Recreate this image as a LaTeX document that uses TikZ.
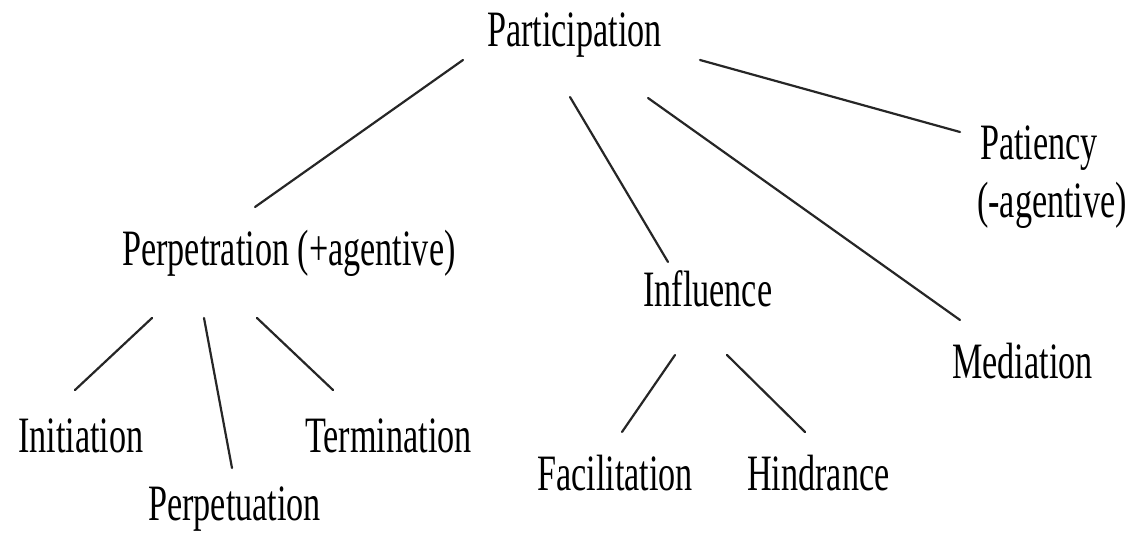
\documentclass[tikz,border=0pt]{standalone}
\usepackage{graphicx}
\usepackage{fontspec}
\setmainfont{Liberation Serif}
\newcommand{\narrowtext}[1]{\scalebox{0.67}[1]{#1}}
\begin{document}
\begin{tikzpicture}[x=1pt,y=-1pt,
  lbl/.style={anchor=base west, inner sep=0pt, font=\fontsize{51}{57}\selectfont},
  conn/.style={line width=2.2pt, draw=black!85, line cap=round}]
\useasboundingbox (0,0) rectangle (1134,534);
\node[lbl] (part) at (487,47) {\narrowtext{Participation}};
\node[lbl] (pat) at (980,160) {\narrowtext{Patiency}};
\node[lbl] (patb) at (977,218) {\narrowtext{(-agentive)}};
\node[lbl] (perp) at (122,266) {\narrowtext{Perpetration (+agentive)}};
\node[lbl] (infl) at (643,306) {\narrowtext{Influence}};
\node[lbl] (med) at (952,378) {\narrowtext{Mediation}};
\node[lbl] (init) at (18,452) {\narrowtext{Initiation}};
\node[lbl] (term) at (305,452) {\narrowtext{Termination}};
\node[lbl] (perpu) at (148,520) {\narrowtext{Perpetuation}};
\node[lbl] (fac) at (537,490) {\narrowtext{Facilitation}};
\node[lbl] (hin) at (747,490) {\narrowtext{Hindrance}};
\draw[conn] ([shift={(-24,13)}]part.base west) -- ([shift={(133,-59)}]perp.base west);
\draw[conn] ([shift={(83,50)}]part.base west) -- ([shift={(25,-44)}]infl.base west);
\draw[conn] ([shift={(161,51)}]part.base west) -- ([shift={(8,-58)}]med.base west);
\draw[conn] ([shift={(213,13)}]part.base west) -- ([shift={(-20,-28)}]pat.base west);
\draw[conn] ([shift={(30,52)}]perp.base west) -- ([shift={(57,-62)}]init.base west);
\draw[conn] ([shift={(82,52)}]perp.base west) -- ([shift={(84,-52)}]perpu.base west);
\draw[conn] ([shift={(135,52)}]perp.base west) -- ([shift={(28,-62)}]term.base west);
\draw[conn] ([shift={(32,49)}]infl.base west) -- ([shift={(85,-58)}]fac.base west);
\draw[conn] ([shift={(84,49)}]infl.base west) -- ([shift={(58,-58)}]hin.base west);
\end{tikzpicture}
\end{document}
